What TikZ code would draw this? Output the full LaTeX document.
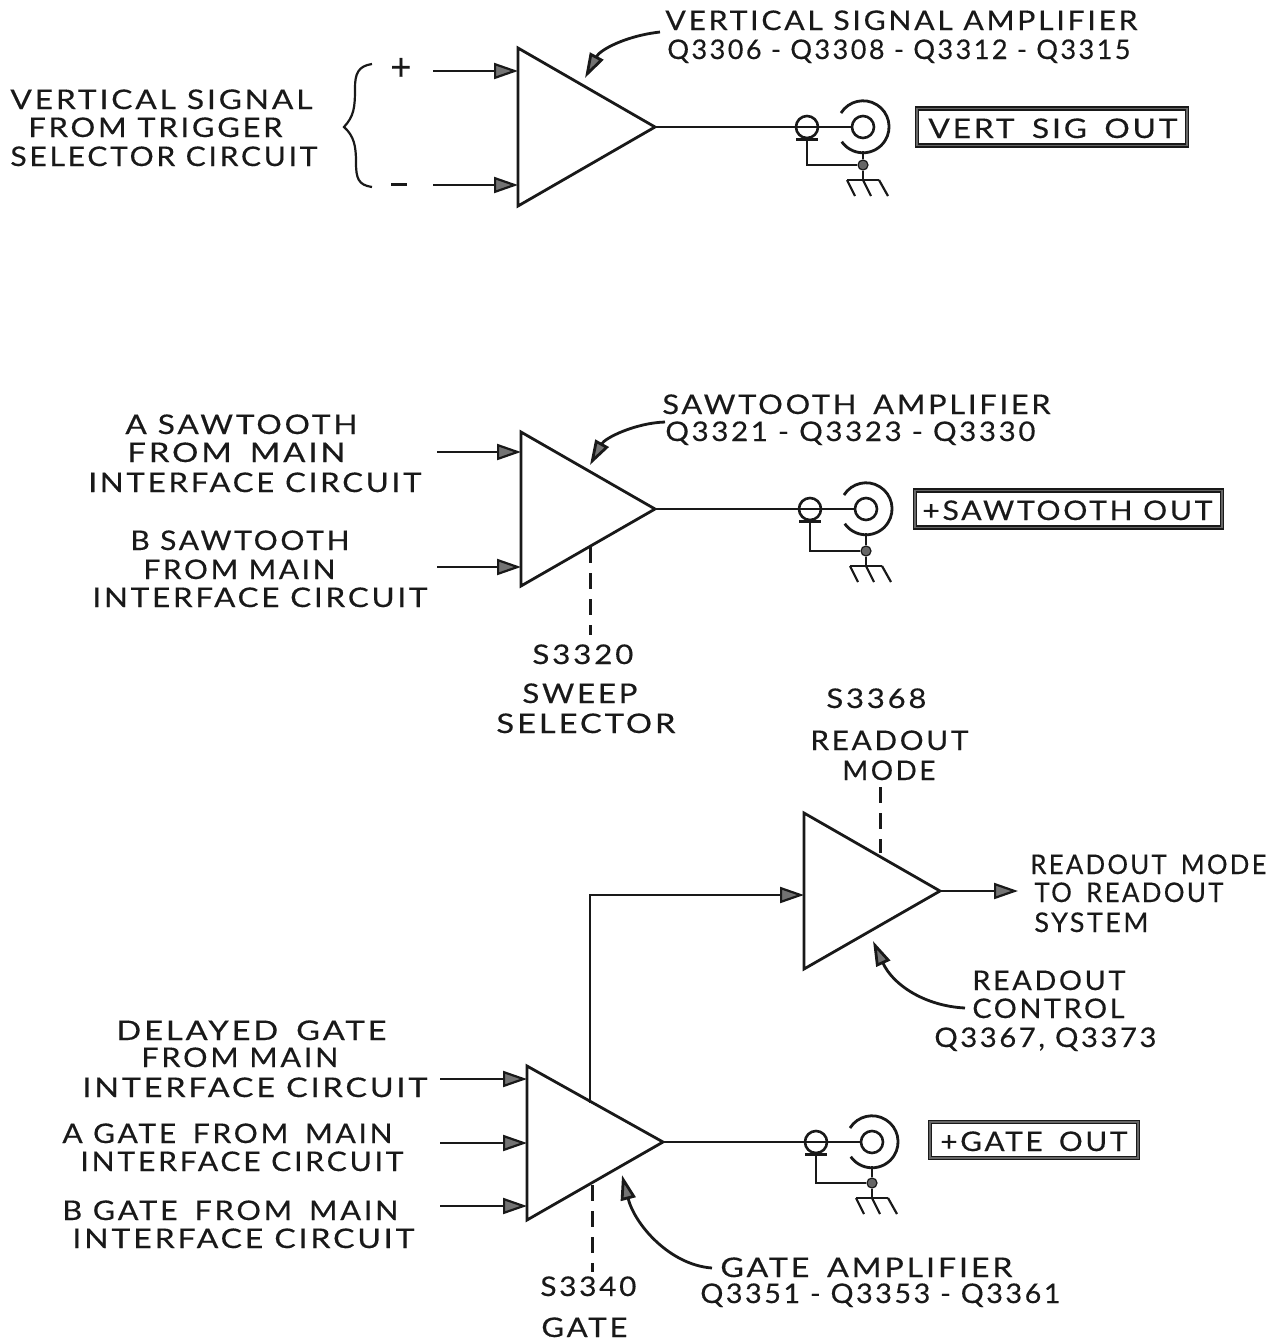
\documentclass[tikz,border=0pt]{standalone}
\usepackage{graphicx}
\usepackage{fontspec}
\setmainfont[LetterSpace=9,FakeBold=0.35]{Lato}
\usetikzlibrary{arrows.meta}
\definecolor{ink}{gray}{0.1}
\newcommand{\wgap}{\hspace{0.55em}}
\tikzset{
  x=0.5pt,y=-0.5pt,
  wire/.style={line width=1.1pt,ink},
  sig/.style={wire,-{Triangle[length=12pt,width=8pt,fill=black!55]}},
  bent/.style={line width=1.4pt,ink,-{Triangle[length=12.5pt,width=7.5pt,fill=black!55]}},
  amp/.style={line width=1.4pt,ink,line join=miter},
  gang/.style={line width=1.5pt,ink,dash pattern=on 8pt off 5pt},
  txt/.style={inner sep=0pt,anchor=base west,text=ink},
  ring/.style={circle,draw=ink,line width=1.3pt,inner sep=0pt,minimum size=11pt},
  dotn/.style={circle,fill=black!60,draw=ink,line width=.6pt,inner sep=0pt,minimum size=5pt},
  outbox/.style={draw=ink,double=black!60,double distance=0.9pt,line width=.6pt,inner sep=0pt,fill=none},
}
\newcommand{\lab}[5]{\node[txt] (#1) at (#2,#4) {\resizebox{\dimexpr #3pt/2-#2pt/2\relax}{9.8pt}{#5}};}
% jack: name, small-ring x, y, inner ring x, dot y
\newcommand{\jack}[5]{%
  \node[ring] (#1s) at (#2,#3) {};
  \node[ring] (#1i) at (#4,#3) {};
  \node[dotn] (#1d) at (#4,#5) {};
  \coordinate (#1bl) at (#2-11,#3+12);
  \coordinate (#1br) at (#2+11,#3+12);
  \coordinate (#1bm) at (#2,#3+12);
  \coordinate (#1g) at (#4,#5+15);
  \draw[wire] (#1s.west) -- (#1s.east) -- (#1i.west);
  \draw[wire,line width=1.5pt] (#1bl) -- (#1br);
  \draw[wire] (#1bm) |- (#1d);
  \draw[wire,line width=1.4pt] (#4-22,#3-14) arc[start angle=-148,end angle=145,radius=26];
  \draw[wire,line width=1.4pt] (#4,#3+24) -- (#1d) -- (#1g);
  \draw[wire] (#4-16,#5+15) -- (#4+16,#5+15);
  \draw[wire] (#4-16,#5+15) -- (#4-8,#5+31);
  \draw[wire] (#1g) -- (#4+8,#5+31);
  \draw[wire] (#4+16,#5+15) -- (#4+25,#5+31);
}
\newcommand{\ampl}[6]{%
  \coordinate (#1t) at (#2,#3);
  \coordinate (#1b) at (#2,#4);
  \coordinate (#1o) at (#5,#6);
  \draw[amp] (#1t) -- (#1b) -- (#1o) -- cycle;
}
\begin{document}
\begin{tikzpicture}
\useasboundingbox (0,0) rectangle (1274,1340);
\fill[white] (0,0) rectangle (1274,1340);

% --- top ---
\ampl{a}{518}{48}{206}{655}{127}
\jack{ja}{807}{127}{863}{165}
\draw[wire] (ao) -- (jas.west);
\coordinate (ip) at (433,71); \coordinate (ipe) at (518,71);
\coordinate (im) at (433,185); \coordinate (ime) at (518,185);
\draw[sig] (ip) -- (ipe);
\draw[sig] (im) -- (ime);
\node[txt] (plus) at (390,80) {\resizebox{10.5pt}{11pt}{+}};
\node[txt] (minus) at (391,185.5) {\rule{8pt}{1.2pt}};
\coordinate (bt) at (372,64); \coordinate (bm) at (344,127); \coordinate (bb) at (372,187);
\draw[wire] (bt) .. controls (358,66) and (355,74) .. (355,88) .. controls (355,108) and (354,116) .. (bm)
  .. controls (354,136) and (356,146) .. (356,162) .. controls (356,178) and (358,185) .. (bb);
\lab{t1}{665}{1137}{30}{VERTICAL SIGNAL AMPLIFIER}
\lab{t2}{667}{1130}{59}{Q3306 - Q3308 - Q3312 - Q3315}
\lab{t3}{10}{312}{109}{VERTICAL SIGNAL}
\lab{t4}{28}{282}{137}{FROM TRIGGER}
\lab{t5}{10}{317}{166}{SELECTOR CIRCUIT}
\node[outbox,minimum width=135pt,minimum height=18.5pt] (b1) at (1052,127) {};
\lab{t6}{928}{1177}{138}{VERT\wgap SIG\wgap OUT}
\coordinate (c1a) at (660,32); \coordinate (c1b) at (585,78);
\draw[bent] (c1a) .. controls (625,36) and (600,50) .. (c1b);

% --- middle ---
\ampl{b}{521}{432}{586}{655}{509}
\jack{jb}{810}{509}{866}{551}
\draw[wire] (bo) -- (jbs.west);
\coordinate (b1i) at (437,452); \coordinate (b1e) at (521,452);
\coordinate (b2i) at (437,567); \coordinate (b2e) at (521,567);
\draw[sig] (b1i) -- (b1e);
\draw[sig] (b2i) -- (b2e);
\coordinate (g1a) at (590,547); \coordinate (g1b) at (590,635);
\draw[gang] (g1a) -- (g1b);
\coordinate (c2a) at (665,422); \coordinate (c2b) at (590,465);
\draw[bent] (c2a) .. controls (635,423) and (605,438) .. (c2b);
\lab{m1}{662}{1050}{414}{SAWTOOTH\wgap AMPLIFIER}
\lab{m2}{665}{1035}{441}{Q3321 - Q3323 - Q3330}
\lab{m3}{125}{357}{434}{A SAWTOOTH}
\lab{m4}{127}{345}{462}{FROM\wgap MAIN}
\lab{m5}{88}{421}{492}{INTERFACE CIRCUIT}
\lab{m6}{130}{349}{550}{B SAWTOOTH}
\lab{m7}{143}{335}{579}{FROM MAIN}
\lab{m8}{92}{427}{607}{INTERFACE CIRCUIT}
\node[outbox,minimum width=153.5pt,minimum height=18.5pt] (b2) at (1068.5,509) {};
\lab{m9}{922}{1212}{520}{+SAWTOOTH OUT}
\lab{m10}{532}{633}{664}{S3320}
\lab{m11}{522}{637}{703}{SWEEP}
\lab{m12}{496}{675}{733}{SELECTOR}

% --- bottom ---
\ampl{r}{804}{813}{969}{940}{891}
\ampl{g}{527}{1066}{1220}{663}{1142}
\jack{jc}{816}{1142}{872}{1183}
\draw[wire] (go) -- (jcs.west);
\coordinate (rs) at (590,1103); \coordinate (re) at (804,895);
\draw[sig] (rs) |- (re);
\coordinate (rout) at (1018,891);
\draw[sig] (ro) -- (rout);
\coordinate (g2a) at (880,787); \coordinate (g2b) at (880,853);
\draw[gang] (g2a) -- (g2b);
\coordinate (d1) at (440,1079); \coordinate (d1e) at (527,1079);
\coordinate (d2) at (440,1143); \coordinate (d2e) at (527,1143);
\coordinate (d3) at (440,1206); \coordinate (d3e) at (527,1206);
\draw[sig] (d1) -- (d1e);
\draw[sig] (d2) -- (d2e);
\draw[sig] (d3) -- (d3e);
\coordinate (g3a) at (592,1185); \coordinate (g3b) at (592,1272);
\draw[gang] (g3a) -- (g3b);
\coordinate (c3a) at (965,1008); \coordinate (c3b) at (873,941);
\draw[bent] (c3a) .. controls (925,1006) and (893,985) .. (c3b);
\coordinate (c4a) at (712,1268); \coordinate (c4b) at (622,1175);
\draw[bent] (c4a) .. controls (670,1265) and (635,1225) .. (c4b);
\lab{r1}{826}{926}{708}{S3368}
\lab{r2}{810}{968}{750}{READOUT}
\lab{r3}{842}{935}{780}{MODE}
\lab{r4}{1030}{1266}{874}{READOUT\wgap MODE}
\lab{r5}{1034}{1223}{902}{TO\wgap READOUT}
\lab{r6}{1034}{1148}{932}{SYSTEM}
\lab{r7}{972}{1125}{990}{READOUT}
\lab{r8}{972}{1124}{1018}{CONTROL}
\lab{r9}{934}{1156}{1047}{Q3367, Q3373}
\lab{g1}{116}{386}{1040}{DELAYED\wgap GATE}
\lab{g2}{141}{338}{1067}{FROM MAIN}
\lab{g3}{82}{427}{1097}{INTERFACE CIRCUIT}
\lab{g4}{62}{392}{1143}{A GATE\wgap FROM\wgap MAIN}
\lab{g5}{80}{403}{1171}{INTERFACE CIRCUIT}
\lab{g6}{62}{398}{1220}{B GATE\wgap FROM\wgap MAIN}
\lab{g7}{72}{414}{1248}{INTERFACE CIRCUIT}
\node[outbox,minimum width=104pt,minimum height=18pt] (b3) at (1034,1140) {};
\lab{g8}{940}{1127}{1151}{+GATE\wgap OUT}
\lab{g9}{720}{1012}{1277}{GATE\wgap AMPLIFIER}
\lab{g10}{700}{1060}{1303}{Q3351 - Q3353 - Q3361}
\lab{g11}{540}{636}{1296}{S3340}
\lab{g12}{541}{627}{1337}{GATE}
\end{tikzpicture}
\end{document}
